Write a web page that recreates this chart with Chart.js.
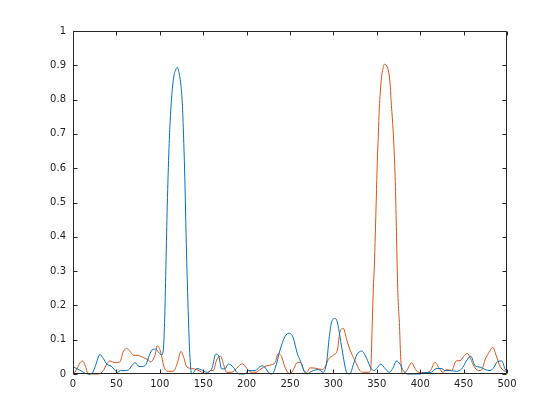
<!DOCTYPE html>
<html>
<head>
<meta charset="utf-8">
<script src="https://cdn.jsdelivr.net/npm/chart.js@4.4.0/dist/chart.umd.min.js"></script>
<style>
  body { margin: 0; background: #fff; }
  canvas { display: block; }
</style>
</head>
<body>
<canvas id="plot" width="560" height="420"></canvas>
<script>
// values
const blueX = [0, 5, 10, 14, 18, 22, 26, 31, 35, 39, 44, 48, 51, 55, 60, 64, 68, 71.5, 76, 80, 84, 88, 91, 95, 99, 102,
  104, 105.5, 106.5, 107.1, 108.6, 110.6, 112, 114.4, 116.3, 118, 120, 122.4, 124.8, 126.3, 127, 128.3, 129.4, 130.5,
  131.7, 133, 134.5, 136.7, 139, 142.5, 148, 154, 158, 160.5, 164.5, 167.5, 171.3, 175, 179, 184.7, 188.6, 192, 198,
  202, 209.7, 217.4, 221, 225, 229, 232.7, 238.5, 244.2, 249.2, 253.8, 258.4, 262.3, 266, 269.4, 273, 277, 282.7,
  288.5, 292.3, 295.3, 298, 301.8, 304.5, 307.6, 311.4, 315.2, 319, 322.9, 326.8, 332.6, 338.4, 342.9, 346.8, 350.5,
  354.5, 359.5, 364.5, 368.3, 372.9, 376.7, 380.6, 385.2, 392, 400, 403.7, 411.5, 419, 424.7, 428.6, 434.4, 442,
  447.8, 452.8, 458.2, 463.2, 469, 474.7, 480.5, 485.1, 488.9, 493.9, 497.7, 500];
const blueY = [0.021, 0.015, 0.008, 0.002, 0, 0.002, 0.025, 0.057, 0.045, 0.029, 0.023, 0.012, 0.005, 0.01, 0.01, 0.012,
  0.025, 0.033, 0.022, 0.022, 0.028, 0.055, 0.07, 0.073, 0.062, 0.055,
  0.07, 0.15, 0.25, 0.32, 0.49, 0.66, 0.74, 0.83, 0.87, 0.885, 0.894, 0.875, 0.83, 0.77, 0.72, 0.62, 0.51, 0.38,
  0.27, 0.16, 0.06, 0, 0.005, 0.016, 0.012, 0.005, 0.008, 0.02, 0.058, 0.055, 0.015, 0.015, 0.029, 0.02, 0.005, 0, 0,
  0.01, 0.01, 0.024, 0.02, 0.005, 0, 0.015, 0.07, 0.109, 0.119, 0.105, 0.06, 0.036, 0.01, 0, 0.005, 0.01, 0.013,
  0.005, 0.036, 0.109, 0.152, 0.162, 0.152, 0.109, 0.05, 0.005, 0, 0.027, 0.055, 0.067, 0.045, 0.018, 0.01, 0.018,
  0.029, 0.016, 0.005, 0.016, 0.038, 0.029, 0.01, 0, 0, 0, 0.004, 0.004, 0.016, 0.016, 0.01, 0.01, 0.008,
  0.015, 0.036, 0.052, 0.024, 0.02, 0.013, 0.01, 0.02, 0.036, 0.038, 0.015, 0.005];

const orangeX = [0, 4, 8, 11, 14, 17.5, 29, 35, 39, 42.6, 48.4, 54, 58, 62.6, 66, 69.5, 75.3, 81, 86.8, 89.4, 94.5, 97.2,
  101, 104.8, 109.8, 115.5, 120, 124.4, 128, 131, 136.7, 142.5, 148, 154, 158, 161.6, 165.5, 170.1, 173.2, 177, 182.8,
  188.6, 195, 200, 203.1, 208, 211, 215.5, 223.1, 228.9, 232.7, 236.6, 240.4, 244.2, 250, 254.6, 258.4, 262.3, 266,
  269.4, 273, 279, 286.6, 290.4, 294.2, 300, 304.6, 307.6, 311.4, 315.3, 319.2, 325, 330.6, 334.5, 340, 342.9,
  344.8, 346, 347.1, 348.3, 349.4, 350.6, 351.8, 352.9, 354, 355.2, 356.7, 358.7, 361.4, 363.7, 365.2, 366.4, 368.3,
  369.8, 371.3, 372.5, 373.6, 374.5, 376, 377.5, 379.5, 384.5, 390.2, 394, 398, 405, 411.9, 417, 422, 426, 430.6,
  436.4, 441.3, 446, 449.7, 454.3, 458.1, 462, 467, 470.8, 474.7, 479.7, 483.5, 487.4, 492, 496.6, 500];
const orangeY = [0, 0.012, 0.032, 0.038, 0.025, 0, 0, 0.01, 0.03, 0.038, 0.033, 0.035, 0.066, 0.074, 0.065, 0.055, 0.054,
  0.048, 0.041, 0.035, 0.055, 0.082, 0.064, 0.021, 0.008, 0.008, 0.03, 0.066, 0.045, 0.021, 0.016, 0.013, 0.006, 0,
  0.01, 0.01, 0.041, 0.052, 0.03, 0.005, 0.005, 0.017, 0.03, 0.017, 0.007, 0.005, 0.005, 0.013, 0.024, 0.027, 0.033,
  0.06, 0.05, 0.02, 0, 0.017, 0.034, 0.034, 0.01, 0.005, 0.018, 0.017, 0.013, 0.02, 0.043, 0.055, 0.07, 0.123, 0.133,
  0.1, 0.07, 0.038, 0.01, 0.005, 0.005, 0.01,
  0.15, 0.25, 0.31, 0.41, 0.51, 0.62, 0.7, 0.775, 0.82, 0.86, 0.885, 0.903, 0.898, 0.88, 0.85, 0.8, 0.73,
  0.66, 0.56, 0.43, 0.3, 0.22, 0.15, 0.05, 0, 0.01, 0.033, 0.016, 0.005, 0.004, 0.01, 0.034, 0.016, 0.005, 0.013,
  0.01, 0.038, 0.039, 0.05, 0.06, 0.045, 0.022, 0.01, 0.012, 0.041, 0.065, 0.078, 0.055, 0.022, 0.01, 0.005];

const xTicks = [0, 50, 100, 150, 200, 250, 300, 350, 400, 450, 500];
const yTicks = [0, 0.1, 0.2, 0.3, 0.4, 0.5, 0.6, 0.7, 0.8, 0.9, 1];

const axisColor = '#262626';

function toPoints(xs, ys) {
  return xs.map((x, i) => ({ x: x, y: ys[i] }));
}

// matlab style box with inward ticks on all four sides
const boxPlugin = {
  id: 'box',
  afterDatasetsDraw(chart) {
    const { ctx, chartArea: a, scales } = chart;
    const l = Math.round(a.left) + 0.5, r = Math.round(a.right) - 0.5;
    const t = Math.round(a.top) + 0.5, b = Math.round(a.bottom) - 0.5;
    const len = 4;
    ctx.save();
    ctx.strokeStyle = axisColor;
    ctx.lineWidth = 1;
    ctx.beginPath();
    ctx.rect(l, t, r - l, b - t);
    xTicks.forEach(v => {
      const px = Math.round(scales.x.getPixelForValue(v)) + 0.5;
      ctx.moveTo(px, b); ctx.lineTo(px, b - len);
      ctx.moveTo(px, t); ctx.lineTo(px, t + len);
    });
    yTicks.forEach(v => {
      const py = Math.round(scales.y.getPixelForValue(v)) + 0.5;
      ctx.moveTo(l, py); ctx.lineTo(l + len, py);
      ctx.moveTo(r, py); ctx.lineTo(r - len, py);
    });
    ctx.stroke();
    ctx.restore();
  }
};

new Chart(document.getElementById('plot'), {
  type: 'line',
  data: {
    datasets: [{
      data: toPoints(blueX, blueY),
      borderColor: '#0072BD',
      borderWidth: 1,
      pointRadius: 0,
      cubicInterpolationMode: 'monotone',
      clip: false
    }, {
      data: toPoints(orangeX, orangeY),
      borderColor: '#D95319',
      borderWidth: 1,
      pointRadius: 0,
      cubicInterpolationMode: 'monotone',
      clip: false
    }]
  },
  options: {
    responsive: false,
    animation: false,
    layout: { padding: { left: 0, top: 31, right: 53, bottom: 0 } },
    plugins: { legend: { display: false }, tooltip: { enabled: false } },
    scales: {
      x: {
        type: 'linear',
        min: 0,
        max: 500,
        afterFit: s => { s.height = 46; },
        afterBuildTicks: s => { s.ticks = xTicks.map(v => ({ value: v })); },
        grid: { display: false, drawTicks: false },
        border: { display: false },
        ticks: { padding: 4, color: axisColor, font: { family: 'DejaVu Sans', size: 10 }, maxRotation: 0 }
      },
      y: {
        min: 0,
        max: 1,
        afterFit: s => { s.width = 73; },
        afterBuildTicks: s => { s.ticks = yTicks.map(v => ({ value: v })); },
        grid: { display: false, drawTicks: false },
        border: { display: false },
        ticks: {
          padding: 7,
          color: axisColor,
          font: { family: 'DejaVu Sans', size: 10 },
          callback: v => String(+v.toFixed(1))
        }
      }
    }
  },
  plugins: [boxPlugin]
});
</script>
</body>
</html>
